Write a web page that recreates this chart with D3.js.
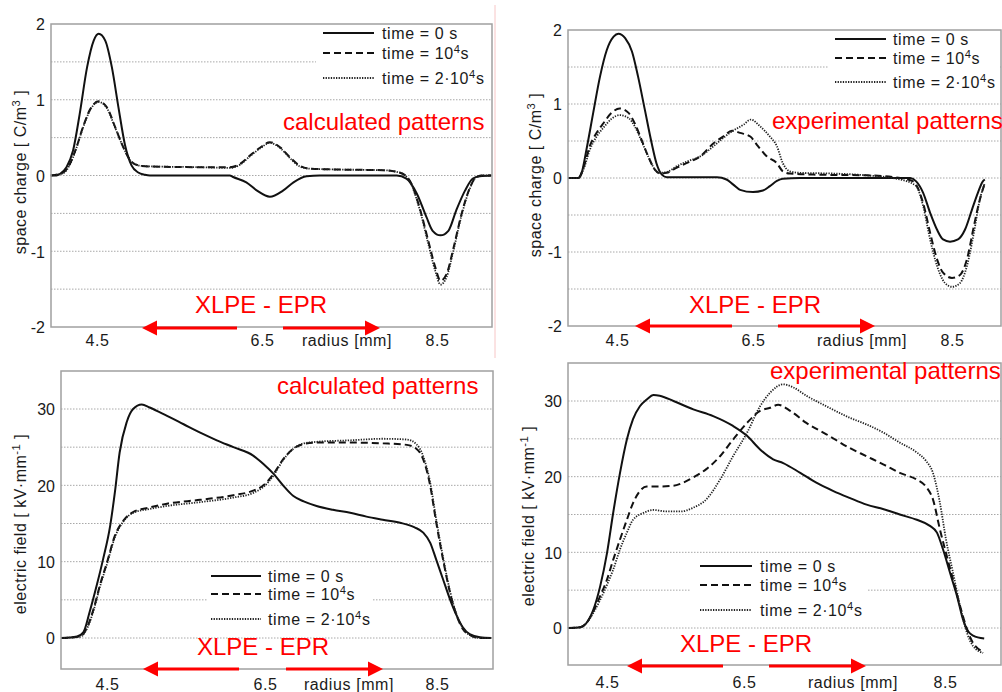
<!DOCTYPE html>
<html>
<head>
<meta charset="utf-8">
<script src="https://cdn.jsdelivr.net/npm/d3@7"></script>
<style>
  body { margin: 0; background: #fff; }
  svg { display: block; }
  text { font-family: "Liberation Sans", Arial, sans-serif; }
</style>
</head>
<body>
<script>
// ---- data (radius in mm, value) ----
const xTickValues = [4.5, 6.5, 8.5];
const chargeTicks = [-2, -1, 0, 1, 2];
const chargeGrid = [-1.5, -1, -0.5, 0, 0.5, 1, 1.5];
const fieldTicks = [0, 10, 20, 30];
const fieldGrid = [0, 5, 10, 15, 20, 25, 30];
const legendLabels = ["time = 0 s", "time = 10^4s", "time = 2\u00b710^4s"];

// calculated space charge [C/m3]
const calcChargeT0 = [[3.94,0],[4.01,0],[4.05,0.02],[4.13,0.11],[4.21,0.33],[4.29,0.81],[4.38,1.43],[4.46,1.78],[4.52,1.87],[4.60,1.78],[4.68,1.43],[4.76,0.90],[4.84,0.40],[4.92,0.13],[5.00,0.04],[5.08,0.01],[5.14,0],[6.11,0],[6.15,-0.02],[6.31,-0.09],[6.44,-0.20],[6.59,-0.28],[6.74,-0.20],[6.86,-0.09],[7.01,-0.01],[7.16,0],[8.04,0],[8.15,-0.04],[8.27,-0.24],[8.38,-0.55],[8.45,-0.73],[8.54,-0.79],[8.63,-0.73],[8.72,-0.46],[8.82,-0.20],[8.91,-0.04],[8.99,-0.01],[9.12,0]];
const calcChargeT1 = [[3.94,0],[4.09,0.04],[4.17,0.15],[4.25,0.37],[4.33,0.64],[4.42,0.88],[4.52,0.98],[4.62,0.90],[4.72,0.64],[4.82,0.37],[4.92,0.18],[5.02,0.13],[5.14,0.12],[5.75,0.11],[6.11,0.11],[6.23,0.15],[6.35,0.26],[6.48,0.37],[6.59,0.44],[6.71,0.37],[6.82,0.24],[6.93,0.13],[7.05,0.09],[7.31,0.08],[7.88,0.07],[8.07,0.04],[8.19,-0.07],[8.30,-0.42],[8.40,-0.86],[8.48,-1.21],[8.54,-1.39],[8.61,-1.30],[8.69,-0.95],[8.78,-0.51],[8.88,-0.15],[8.95,-0.02],[9.02,0],[9.12,0]];
const calcChargeT2 = [[3.94,0],[4.09,0.03],[4.17,0.14],[4.25,0.36],[4.33,0.63],[4.42,0.87],[4.52,0.97],[4.62,0.89],[4.72,0.63],[4.82,0.37],[4.92,0.18],[5.02,0.13],[5.14,0.12],[5.75,0.11],[6.11,0.10],[6.23,0.14],[6.35,0.25],[6.48,0.36],[6.59,0.43],[6.71,0.36],[6.82,0.23],[6.93,0.12],[7.05,0.09],[7.31,0.08],[7.88,0.07],[8.07,0.04],[8.19,-0.08],[8.30,-0.44],[8.40,-0.90],[8.48,-1.26],[8.54,-1.44],[8.61,-1.34],[8.69,-0.98],[8.78,-0.53],[8.88,-0.16],[8.95,-0.02],[9.02,0],[9.12,0]];

// experimental space charge [C/m3]
const expChargeT0 = [[3.78,0],[3.93,0],[3.98,0.07],[4.05,0.38],[4.15,0.88],[4.25,1.37],[4.35,1.73],[4.45,1.91],[4.52,1.95],[4.62,1.89],[4.72,1.71],[4.81,1.37],[4.91,0.92],[5.01,0.47],[5.08,0.20],[5.16,0.045],[5.23,0.01],[5.97,0.01],[6.11,-0.02],[6.21,-0.09],[6.31,-0.16],[6.50,-0.19],[6.60,-0.17],[6.67,-0.11],[6.74,-0.04],[6.80,-0.01],[6.97,0],[8.08,0],[8.14,-0.045],[8.21,-0.2],[8.28,-0.47],[8.35,-0.70],[8.41,-0.83],[8.48,-0.86],[8.56,-0.83],[8.63,-0.70],[8.70,-0.43],[8.76,-0.2],[8.81,-0.045],[8.83,-0.02]];
const expChargeT1 = [[3.78,0],[3.93,0],[4.005,0.135],[4.10,0.43],[4.20,0.61],[4.30,0.74],[4.42,0.88],[4.54,0.94],[4.67,0.88],[4.76,0.74],[4.86,0.52],[4.96,0.29],[5.06,0.11],[5.13,0.06],[5.23,0.07],[5.38,0.14],[5.52,0.20],[5.72,0.29],[5.92,0.47],[6.06,0.56],[6.19,0.64],[6.31,0.61],[6.46,0.56],[6.55,0.43],[6.64,0.29],[6.74,0.20],[6.80,0.09],[6.87,0.06],[7.14,0.045],[7.64,0.036],[7.98,0],[8.11,-0.045],[8.21,-0.34],[8.28,-0.74],[8.35,-1.10],[8.41,-1.28],[8.50,-1.35],[8.58,-1.31],[8.65,-1.10],[8.72,-0.65],[8.78,-0.29],[8.83,-0.07]];
const expChargeT2 = [[3.78,0],[3.93,0],[4.005,0.11],[4.10,0.38],[4.20,0.56],[4.30,0.68],[4.42,0.80],[4.54,0.85],[4.67,0.81],[4.76,0.70],[4.86,0.50],[4.96,0.29],[5.06,0.11],[5.13,0.07],[5.23,0.08],[5.38,0.16],[5.52,0.22],[5.72,0.29],[5.92,0.43],[6.06,0.54],[6.21,0.64],[6.36,0.72],[6.47,0.79],[6.57,0.70],[6.67,0.56],[6.74,0.43],[6.80,0.20],[6.87,0.09],[6.97,0.07],[7.31,0.06],[7.64,0.036],[7.98,-0.02],[8.14,-0.11],[8.21,-0.38],[8.28,-0.83],[8.35,-1.19],[8.43,-1.42],[8.50,-1.47],[8.58,-1.42],[8.65,-1.19],[8.72,-0.74],[8.78,-0.29],[8.83,-0.07]];

// calculated electric field [kV/mm]
const calcFieldT0 = [[3.92,0],[4.12,0.2],[4.20,0.74],[4.28,3.4],[4.37,6.9],[4.45,10.3],[4.54,14.7],[4.60,19.1],[4.66,24.3],[4.75,28.3],[4.83,30.0],[4.94,30.6],[5.04,30.2],[5.26,29.1],[5.47,28.0],[5.68,26.9],[5.89,25.9],[6.10,25.0],[6.35,23.9],[6.48,22.8],[6.60,21.5],[6.71,20.0],[6.83,18.6],[6.95,17.9],[7.10,17.3],[7.29,16.8],[7.49,16.4],[7.68,15.9],[7.87,15.5],[8.07,15.1],[8.24,14.5],[8.34,13.8],[8.42,12.5],[8.49,10.3],[8.57,7.7],[8.65,5.1],[8.73,2.9],[8.80,1.4],[8.88,0.5],[9.00,0.1],[9.13,0]];
const calcFieldT1 = [[3.92,0],[4.16,0.2],[4.24,1.2],[4.33,3.8],[4.41,6.9],[4.50,9.9],[4.60,13.4],[4.71,15.4],[4.83,16.5],[5.04,17.1],[5.26,17.6],[5.68,18.1],[6.10,18.7],[6.35,19.3],[6.48,20.0],[6.60,21.5],[6.71,23.4],[6.83,24.8],[6.95,25.4],[7.10,25.6],[7.49,25.6],[7.87,25.5],[8.15,25.3],[8.26,24.8],[8.34,23.4],[8.42,20.0],[8.49,15.2],[8.57,10.3],[8.65,6.0],[8.73,2.9],[8.80,1.2],[8.88,0.4],[9.00,0],[9.13,0]];
const calcFieldT2 = [[3.92,0],[4.16,0.15],[4.24,1.1],[4.33,3.6],[4.41,6.7],[4.50,9.7],[4.60,13.2],[4.71,15.3],[4.83,16.4],[5.04,16.9],[5.26,17.3],[5.68,17.8],[6.10,18.4],[6.35,19.0],[6.48,19.8],[6.60,21.3],[6.71,23.3],[6.83,24.8],[6.95,25.5],[7.10,25.7],[7.49,25.9],[7.87,26.1],[8.15,26.0],[8.26,25.4],[8.34,23.8],[8.42,20.4],[8.49,15.6],[8.57,10.6],[8.65,6.2],[8.73,3.0],[8.80,1.3],[8.88,0.4],[9.00,0],[9.13,0]];

// experimental electric field [kV/mm]
const expFieldT0 = [[3.93,0],[4.11,0.1],[4.20,0.66],[4.30,2.4],[4.40,5.5],[4.50,9.9],[4.59,15.2],[4.69,20.5],[4.79,24.9],[4.88,27.6],[4.98,29.3],[5.08,30.2],[5.18,30.8],[5.27,30.7],[5.47,30.0],[5.76,28.9],[6.05,28.0],[6.34,26.7],[6.53,25.4],[6.66,23.6],[6.79,22.3],[6.89,21.8],[7.06,20.5],[7.22,19.2],[7.39,18.1],[7.55,17.2],[7.72,16.3],[7.89,15.7],[8.05,15.0],[8.22,14.3],[8.35,13.5],[8.42,12.6],[8.48,10.4],[8.55,7.3],[8.62,4.2],[8.68,1.1],[8.73,-0.44],[8.78,-1.0],[8.89,-1.4]];
const expFieldT1 = [[3.93,0],[4.11,0.1],[4.20,0.66],[4.30,2.2],[4.40,4.2],[4.50,6.4],[4.59,9.0],[4.69,11.7],[4.79,14.3],[4.88,16.5],[4.98,18.1],[5.08,18.7],[5.23,18.7],[5.47,18.8],[5.61,19.2],[5.76,19.9],[5.95,21.0],[6.15,22.7],[6.34,24.9],[6.53,27.1],[6.66,28.7],[6.76,29.1],[6.84,29.5],[6.96,28.7],[7.12,27.1],[7.32,25.6],[7.55,23.8],[7.72,22.7],[7.89,21.6],[8.05,20.5],[8.22,19.6],[8.31,18.7],[8.38,17.0],[8.45,13.0],[8.51,9.9],[8.58,6.4],[8.65,2.9],[8.72,-0.2],[8.78,-2.0],[8.88,-3.1]];
const expFieldT2 = [[3.93,0],[4.11,0.1],[4.20,0.66],[4.30,2.0],[4.40,3.7],[4.50,5.7],[4.59,7.7],[4.69,10.4],[4.79,12.6],[4.88,14.3],[5.03,15.2],[5.18,15.6],[5.37,15.4],[5.57,15.4],[5.76,15.9],[5.95,17.0],[6.15,19.6],[6.34,22.7],[6.53,25.8],[6.66,29.3],[6.76,31.1],[6.89,32.2],[6.99,31.8],[7.12,30.7],[7.32,29.3],[7.55,27.8],[7.72,26.9],[7.89,25.8],[8.05,24.5],[8.22,23.2],[8.31,22.1],[8.38,20.5],[8.45,16.5],[8.51,11.7],[8.58,7.3],[8.65,2.9],[8.72,-0.7],[8.78,-2.4],[8.88,-3.3]];

// ---- layout ----
const w = 1002;
const h = 692;
const red = "#f00";
const ink = "#1a1a1a";

const lineStyles = [
  { dash: null, width: 2, color: "#111" },
  { dash: "7,4", width: 2, color: "#111" },
  { dash: "1.3,1.3", width: 1.8, color: "#222" }
];

const panels = [
  {
    box: { x: 51, y: 24, w: 441, h: 303 },
    xAnchors: [97, 262, 437], yRef: [-2, 2], yPix: [327, 24],
    ticks: chargeTicks, grid: chargeGrid, tickBase: 346, radiusX: 347,
    yTitle: ["space charge [ C/m", "3", " ]"], yTitleX: 20, yTitleY: 172,
    series: [calcChargeT0, calcChargeT1, calcChargeT2],
    mask: { x: 316, y: 25, w: 175, h: 66 },
    legend: { x1: 323, x2: 374, tx: 382, rows: [33, 53, 78] },
    note: { text: "calculated patterns", x: 283, y: 130 },
    xlpe: { x: 195, y: 313 }, arrowY: 328, arrows: [[142, 237], [380, 283]]
  },
  {
    box: { x: 568, y: 30, w: 433, h: 296 },
    xAnchors: [617, 753, 952], yRef: [-2, 2], yPix: [326, 30],
    ticks: chargeTicks, grid: chargeGrid, tickBase: 346, radiusX: 862,
    yTitle: ["space charge [ C/m", "3", " ]"], yTitleX: 535, yTitleY: 175,
    series: [expChargeT0, expChargeT1, expChargeT2],
    mask: { x: 828, y: 31, w: 172, h: 65 },
    legend: { x1: 835, x2: 886, tx: 893, rows: [39, 58, 82] },
    note: { text: "experimental patterns", x: 772, y: 129 },
    xlpe: { x: 689, y: 313 }, arrowY: 326, arrows: [[635, 732], [875, 778]]
  },
  {
    box: { x: 61, y: 371, w: 432, h: 298 },
    xAnchors: [107, 265, 437], yRef: [0, 30], yPix: [638, 409],
    ticks: fieldTicks, grid: fieldGrid, tickBase: 690, radiusX: 349,
    yTitle: ["electric field [ kV\u00b7mm", "-1", " ]"], yTitleX: 20, yTitleY: 524,
    series: [calcFieldT0, calcFieldT1, calcFieldT2],
    mask: { x: 208, y: 566, w: 165, h: 66 },
    legend: { x1: 211, x2: 261, tx: 268, rows: [576, 594, 619] },
    note: { text: "calculated patterns", x: 277, y: 394 },
    xlpe: { x: 197, y: 655 }, arrowY: 669, arrows: [[143, 239], [383, 286]]
  },
  {
    box: { x: 568, y: 363, w: 433, h: 302 },
    xAnchors: [607, 744, 945], yRef: [0, 30], yPix: [628, 401],
    ticks: fieldTicks, grid: fieldGrid, tickBase: 688, radiusX: 853,
    yTitle: ["electric field [ kV\u00b7mm", "-1", " ]"], yTitleX: 528, yTitleY: 516,
    series: [expFieldT0, expFieldT1, expFieldT2],
    mask: { x: 690, y: 557, w: 177, h: 66 },
    legend: { x1: 700, x2: 752, tx: 760, rows: [566, 585, 610] },
    note: { text: "experimental patterns", x: 770, y: 379 },
    xlpe: { x: 680, y: 652 }, arrowY: 666, arrows: [[627, 723], [866, 769]]
  }
];

const svg = d3.select("body")
              .append("svg")
              .attr("width", w)
              .attr("height", h);

svg.append("rect").attr("width", w).attr("height", h).attr("fill", "#fff");

// faint separator line of the original figure
svg.append("line")
   .attr("x1", 495).attr("x2", 495).attr("y1", 5).attr("y2", 358)
   .attr("stroke", "#f7c6c6").attr("stroke-width", 1);

// writes "10^4" style strings with superscripts
function superText(sel, str) {
  const parts = str.split(/\^(\d)/);
  parts.forEach((t, i) => {
    if (t === "") return;
    const ts = sel.append("tspan").text(t);
    if (i % 2 === 1) ts.attr("baseline-shift", "super").attr("font-size", "70%");
  });
}

function arrow(g, tip, tail, y) {
  const dir = Math.sign(tip - tail);
  const head = 15;
  g.append("line")
   .attr("x1", tail).attr("x2", tip - dir * head + dir)
   .attr("y1", y).attr("y2", y)
   .attr("stroke", red).attr("stroke-width", 3);
  g.append("path")
   .attr("d", `M${tip},${y} L${tip - dir * head},${y - 7.5} L${tip - dir * head},${y + 7.5} Z`)
   .attr("fill", red);
}

function drawPanel(p) {
  const g = svg.append("g");
  const b = p.box;

  const xScale = d3.scaleLinear().domain(xTickValues).range(p.xAnchors);
  const yScale = d3.scaleLinear().domain(p.yRef).range(p.yPix);

  // dotted grid
  g.selectAll(".grid")
   .data(p.grid)
   .enter()
   .append("line")
   .attr("x1", b.x).attr("x2", b.x + b.w)
   .attr("y1", (d) => yScale(d)).attr("y2", (d) => yScale(d))
   .attr("stroke", "#a8a8a8")
   .attr("stroke-width", 1)
   .attr("stroke-dasharray", "1.5,1.5");

  // legend background hides the grid
  g.append("rect")
   .attr("x", p.mask.x).attr("y", p.mask.y)
   .attr("width", p.mask.w).attr("height", p.mask.h)
   .attr("fill", "#fff");

  const line = d3.line()
                 .x((d) => xScale(d[0]))
                 .y((d) => yScale(d[1]))
                 .curve(d3.curveMonotoneX);

  p.series.forEach((s, i) => {
    const st = lineStyles[i];
    g.append("path")
     .datum(s)
     .attr("d", line)
     .attr("fill", "none")
     .attr("stroke", st.color)
     .attr("stroke-width", st.width)
     .attr("stroke-dasharray", st.dash)
     .attr("stroke-linejoin", "round");
  });

  // frame
  g.append("rect")
   .attr("x", b.x).attr("y", b.y).attr("width", b.w).attr("height", b.h)
   .attr("fill", "none").attr("stroke", "#a0a0a0").attr("stroke-width", 1.5);

  // y tick labels
  const yAxis = d3.axisLeft(yScale)
                  .tickValues(p.ticks)
                  .tickSize(0)
                  .tickPadding(6)
                  .tickFormat((d) => String(d));
  const ya = g.append("g")
              .attr("transform", "translate(" + b.x + ",0)")
              .call(yAxis);
  ya.select(".domain").remove();
  ya.attr("font-family", null).attr("font-size", null);
  ya.selectAll("text")
    .attr("font-size", 16)
    .attr("fill", ink)
    .attr("dy", "0.36em");

  // x tick labels
  const xAxis = d3.axisBottom(xScale).tickValues(xTickValues).tickSize(0).tickFormat(d3.format(".1f"));
  const xa = g.append("g")
              .attr("transform", "translate(0," + (b.y + b.h) + ")")
              .call(xAxis);
  xa.select(".domain").remove();
  xa.attr("font-family", null).attr("font-size", null);
  xa.selectAll("text")
    .attr("font-size", 16)
    .attr("letter-spacing", 0.6)
    .attr("fill", ink)
    .attr("dy", null)
    .attr("y", p.tickBase - (b.y + b.h));

  g.append("text")
   .attr("x", p.radiusX).attr("y", p.tickBase)
   .attr("text-anchor", "middle")
   .attr("font-size", 16).attr("letter-spacing", 0.6)
   .attr("fill", ink)
   .text("radius [mm]");

  // y title
  const yt = g.append("text")
              .attr("transform", `translate(${p.yTitleX},${p.yTitleY}) rotate(-90)`)
              .attr("text-anchor", "middle")
              .attr("dy", "0.35em")
              .attr("font-size", 16)
              .attr("letter-spacing", 0.5)
              .attr("fill", ink);
  yt.append("tspan").text(p.yTitle[0]);
  yt.append("tspan").attr("baseline-shift", "super").attr("font-size", "70%").text(p.yTitle[1]);
  yt.append("tspan").text(p.yTitle[2]);

  // legend
  p.legend.rows.forEach((ry, i) => {
    const st = lineStyles[i];
    g.append("line")
     .attr("x1", p.legend.x1).attr("x2", p.legend.x2)
     .attr("y1", ry).attr("y2", ry)
     .attr("stroke", st.color)
     .attr("stroke-width", st.width)
     .attr("stroke-dasharray", st.dash);
    const t = g.append("text")
               .attr("x", p.legend.tx).attr("y", ry + 5.5)
               .attr("font-size", 16).attr("letter-spacing", 0.6)
               .attr("fill", ink);
    superText(t, legendLabels[i]);
  });

  // red annotations
  g.append("text")
   .attr("x", p.note.x).attr("y", p.note.y)
   .attr("font-size", 24).attr("fill", red)
   .text(p.note.text);

  g.append("text")
   .attr("x", p.xlpe.x).attr("y", p.xlpe.y)
   .attr("font-size", 24).attr("fill", red)
   .text("XLPE - EPR");

  p.arrows.forEach((a) => arrow(g, a[0], a[1], p.arrowY));
}

panels.forEach(drawPanel);
</script>
</body>
</html>
